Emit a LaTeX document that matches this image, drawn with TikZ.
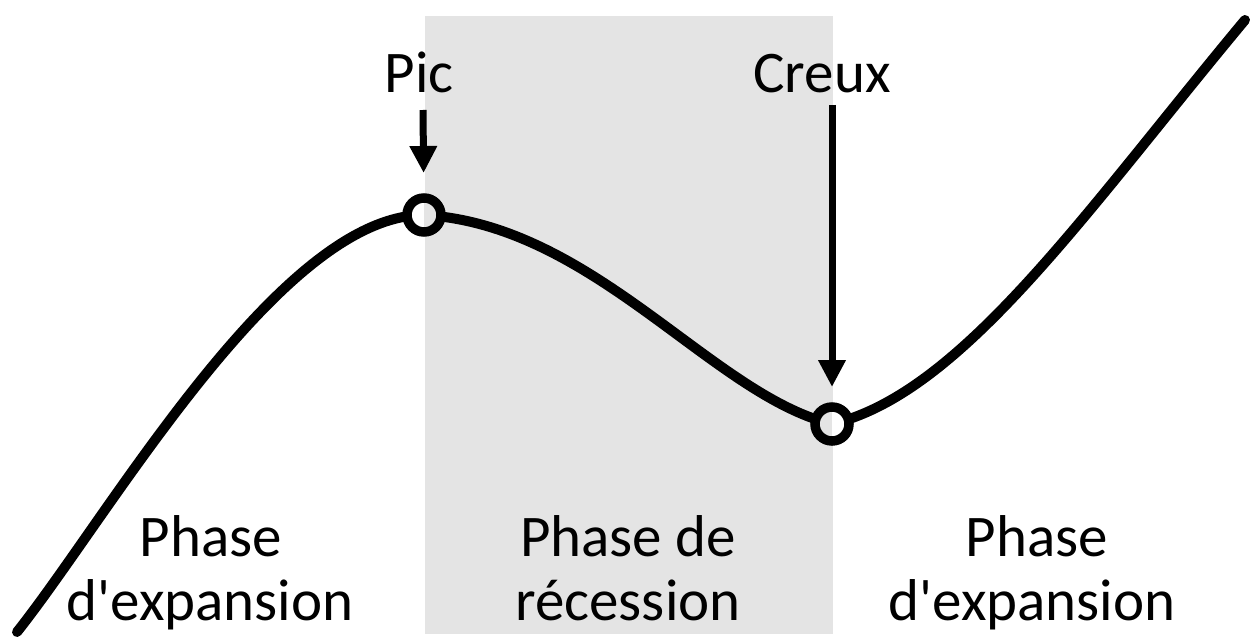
\documentclass[tikz,border=0pt]{standalone}
\usepackage{fontspec}
\setmainfont{Carlito}
\usetikzlibrary{arrows.meta}
\definecolor{bggray}{RGB}{228,228,228}
\tikzset{
  curve/.style={line width=10pt, line cap=round, black},
  turnpt/.style={circle, draw=black, fill=white, line width=9.5pt, minimum size=34pt, inner sep=0pt},
  pointer/.style={line width=7pt, -{Triangle[width=26pt,length=27pt]}},
  lbl/.style={font=\fontsize{59}{64}\selectfont, anchor=base, inner sep=0pt}
}
\begin{document}
\begin{tikzpicture}[x=1pt,y=-1pt]
\useasboundingbox (0,0) rectangle (1258,639);
\fill[white] (0,0) rectangle (1258,639);
% recession band
\fill[bggray] (425,16) rectangle (833,634);
% turning points (positions)
\coordinate (start) at (17,632);
\coordinate (finish) at (1245,20);
\coordinate (P) at (424,215);
\coordinate (C) at (832,424);
% curve
\draw[curve] (start) .. controls (110,515) and (280,215) .. (P)
  .. controls (594,225) and (712,395) .. (C)
  .. controls (962,393) and (1085,212) .. (finish);
% circles
\node[turnpt, path picture={\fill[bggray] (path picture bounding box.north) rectangle (path picture bounding box.south east);}] (pic) at (P) {};
\node[turnpt, path picture={\fill[bggray] (path picture bounding box.north west) rectangle (path picture bounding box.south);}] (creux) at (C) {};
% labels
\node[lbl] (picl) at (419,93) {Pic};
\node[lbl] (creuxl) at (822,93) {Creux};
\coordinate (pa) at (423,110);
\coordinate (ca) at (832,105);
\draw[pointer, shorten >=42pt] (pa) -- (pic.center);
\draw[pointer, shorten >=37pt] (ca) -- (creux.center);
% phase labels
\node[lbl] (e1a) at (211,556) {Phase};
\node[lbl] (e1b) at (210,620) {d\textquotesingle expansion};
\node[lbl] (r1a) at (628,556) {Phase de};
\node[lbl] (r1b) at (628,620) {récession};
\node[lbl] (e2a) at (1037,556) {Phase};
\node[lbl] (e2b) at (1032,620) {d\textquotesingle expansion};
\end{tikzpicture}
\end{document}
